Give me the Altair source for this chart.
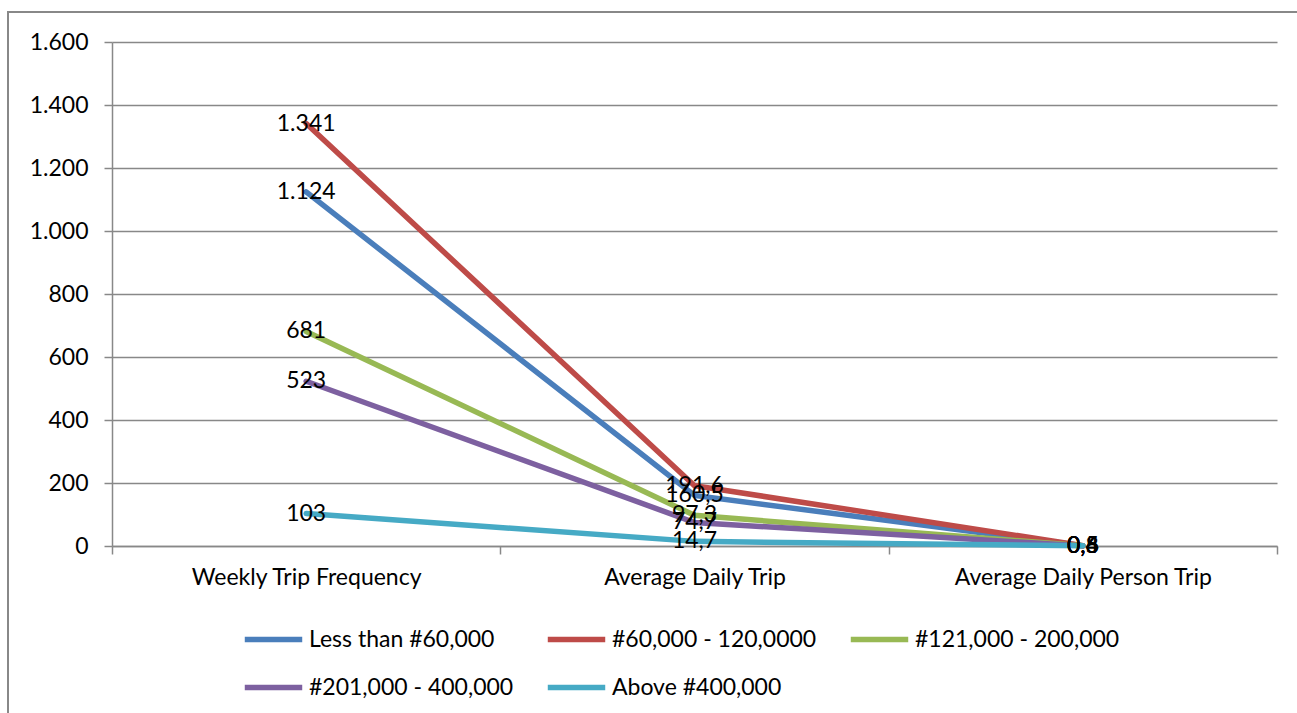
import altair as alt
import pandas as pd

# Categories on the x axis
categories = ["Weekly Trip Frequency", "Average Daily Trip", "Average Daily Person Trip"]

# Income groups (series) and their colours
groups = [
    "Less than #60,000",
    "#60,000 - 120,0000",
    "#121,000 - 200,000",
    " #201,000 - 400,000",
    "Above #400,000",
]
colors = ["#4A7EBB", "#BE4B48", "#98B954", "#7D60A0", "#46AAC5"]

# Values per group, in category order
less_60k = [1124, 160.5, 0.6]
from_60k_120k = [1341, 191.6, 0.8]
from_121k_200k = [681, 97.3, 0.5]
from_201k_400k = [523, 74.7, 0.4]
above_400k = [103, 14.7, 0.6]

series = [less_60k, from_60k_120k, from_121k_200k, from_201k_400k, above_400k]

rows = []
for gi, (g, vals) in enumerate(zip(groups, series)):
    for ci, (c, v) in enumerate(zip(categories, vals)):
        rows.append({"group": g, "gorder": gi, "category": c, "value": v})
df = pd.DataFrame(rows)

FONT = "Lato"
FS = 23

x_enc = alt.X(
    "category:N",
    sort=categories,
    scale=alt.Scale(paddingInner=0, paddingOuter=0),
    axis=alt.Axis(
        title=None,
        labelAngle=0,
        labelFontSize=FS,
        labelFont=FONT,
        labelColor="black",
        labelPadding=12,
        labelLimit=600,
        domainColor="#888888",
        domainWidth=1.5,
        tickColor="#888888",
        tickWidth=1.5,
        tickSize=8,
        tickBand="extent",
        tickExtra=True,
        grid=False,
    ),
)
y_enc = alt.Y(
    "value:Q",
    scale=alt.Scale(domain=[0, 1600], nice=False),
    axis=alt.Axis(
        title=None,
        values=[0, 200, 400, 600, 800, 1000, 1200, 1400, 1600],
        labelExpr="replace(format(datum.value, ','), ',', '.')",
        labelFontSize=FS,
        labelFont=FONT,
        labelColor="black",
        labelPadding=16,
        domainColor="#888888",
        domainWidth=1.5,
        tickColor="#888888",
        tickWidth=1.5,
        tickSize=8,
        gridColor="#888888",
        gridWidth=1.5,
    ),
)

lines = alt.Chart(df).mark_line(strokeWidth=5.5, strokeCap="round").encode(
    x=x_enc,
    y=y_enc,
    color=alt.Color(
        "group:N",
        sort=groups,
        scale=alt.Scale(domain=groups, range=colors),
        legend=alt.Legend(
            title=None,
            orient="none",
            legendX=130,
            legendY=566,
            columns=3,
            direction="horizontal",
            gridAlign="none",
            symbolType="stroke",
            symbolSize=3300,
            symbolStrokeWidth=5.5,
            labelFontSize=FS,
            labelFont=FONT,
            labelColor="black",
            labelLimit=400,
            columnPadding=22,
            rowPadding=4,
            symbolOffset=0,
            labelOffset=4,
        ),
    ),
    order=alt.Order("gorder:Q"),
    detail="group:N",
)

labels = alt.Chart(df).transform_calculate(
    label="datum.value % 1 == 0 ? replace(format(datum.value, ','), ',', '.') : replace(format(datum.value, '.1f'), '.', ',')"
).mark_text(
    fontSize=FS, font=FONT, color="black", align="center", baseline="middle"
).encode(
    x=alt.X("category:N", sort=categories),
    y="value:Q",
    text="label:N",
)

frame = alt.Chart(df).mark_rect(fill=None, stroke="#888888", strokeWidth=1.5).encode(
    x=alt.value(-104), x2=alt.value(1300), y=alt.value(-30), y2=alt.value(800)
)

chart = (
    alt.layer(frame, lines, labels)
    .properties(
        width=1165,
        height=504,
        padding={"left": 112, "top": 42, "right": 20, "bottom": 167},
        autosize=alt.AutoSizeParams(type="none"),
        background="white",
    )
    .configure_view(stroke=None)
)

chart.save("out.html", embed_options={"renderer": "svg", "actions": False})
